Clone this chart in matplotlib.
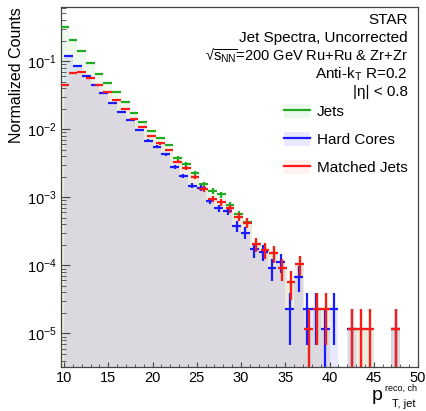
import numpy as np
import matplotlib
matplotlib.use('Agg')
import matplotlib.pyplot as plt
from matplotlib.patches import Patch
from matplotlib.lines import Line2D
from matplotlib.ticker import LogLocator, MultipleLocator, NullFormatter

plt.rcParams['font.family'] = ['Liberation Sans', 'DejaVu Sans']
plt.rcParams['mathtext.fontset'] = 'custom'
plt.rcParams['mathtext.rm'] = 'Liberation Sans'
plt.rcParams['mathtext.it'] = 'Liberation Sans:italic'
plt.rcParams['mathtext.default'] = 'regular'

# binning (jets / matched jets share one binning, hard cores use integer bins)
jet_edges = 9.531 + 0.986 * np.arange(42)
core_edges = np.arange(10, 51)

# normalized counts per bin
jets = [0.320, 0.206, 0.1406, 0.0938, 0.0647, 0.0477, 0.0346, 0.0254, 0.0174, 0.01277,
        0.0095, 0.00735, 0.00586, 0.00378, 0.00311, 0.00231, 0.00157, 0.00125, 0.0011, 0.000758,
        0.000559, 0.000434, 2.04e-4, 1.68e-4, 1.51e-4, 9.06e-5, 5.65e-5, 1.04e-4, 1.15e-5, 2.3e-5,
        2.3e-5, 0, 0, 1.15e-5, 1.15e-5, 1.15e-5, 0, 0, 1.15e-5, 0, 0]
matched = [0.0441, 0.0662, 0.0703, 0.0570, 0.0441, 0.0349, 0.0269, 0.0199, 0.0140, 0.0109,
           0.00795, 0.00621, 0.00495, 0.00334, 0.00269, 0.00199, 0.00132, 0.000944, 0.000853, 0.000685,
           0.000519, 0.000420, 2.04e-4, 1.68e-4, 1.51e-4, 9.06e-5, 5.65e-5, 1.04e-4, 1.15e-5, 2.3e-5,
           2.3e-5, 0, 0, 1.15e-5, 1.15e-5, 1.15e-5, 0, 0, 1.15e-5, 0, 0]
cores = [0.1175, 0.0839, 0.0611, 0.0439, 0.0344, 0.0245, 0.0181, 0.01365, 0.00973, 0.00678,
         0.00553, 0.00428, 0.00281, 0.00206, 0.00148, 0.00137, 0.000891, 0.000689, 0.000629, 0.000379,
         0.000302, 0.000172, 0.000159, 9.06e-5, 1.13e-4, 2.3e-5, 6.83e-5, 2.3e-5, 2.3e-5, 1.15e-5,
         2.3e-5, 0, 1.15e-5, 0, 0, 0, 0, 1.15e-5, 0, 0]
unit = 1.15e-5  # one entry, in normalized units

labels = ['Jets', 'Hard Cores', 'Matched Jets']
line_cols = ['#22aa22', '#1a1aff', '#ff1a1a']
fill_cols = [(0.3, 0.8, 0.3, 0.10), (0.4, 0.4, 1.0, 0.15), (1.0, 0.5, 0.45, 0.11)]
floor = 1e-9


def draw_hist(ax, edges, vals, col, fcol):
    vals = np.asarray(vals, dtype=float)
    ax.stairs(np.where(vals > 0, vals, floor), edges, fill=True, baseline=floor,
              color=fcol, lw=0, zorder=1)
    ok = vals > 0
    cent = 0.5 * (edges[:-1] + edges[1:])
    xerr = 0.5 * np.diff(edges)
    err = np.sqrt(vals * unit)
    lo = np.minimum(err, vals * (1 - 1e-9))
    ax.errorbar(cent[ok], vals[ok], xerr=xerr[ok], yerr=[lo[ok], err[ok]],
                fmt='none', ecolor=col, elinewidth=1.6, capsize=0, zorder=3)


fig = plt.figure(figsize=(4.27, 4.11), dpi=100)
ax = fig.add_axes([61 / 427, 1 - 367 / 411, 357 / 427, 360 / 411])
ax.set_yscale('log')

series = [(jet_edges, jets), (core_edges, cores), (jet_edges, matched)]
for (edges, vals), col, fcol in zip(series, line_cols, fill_cols):
    draw_hist(ax, edges, vals, col, fcol)

ax.set_xlim(9.66, 50)
ax.set_ylim(3.22e-6, 0.6226)
ax.xaxis.set_major_locator(MultipleLocator(5))
ax.xaxis.set_minor_locator(MultipleLocator(1))
ax.yaxis.set_major_locator(LogLocator(base=10, numticks=10))
ax.yaxis.set_minor_locator(LogLocator(base=10, subs=np.arange(2, 10), numticks=10))
ax.yaxis.set_minor_formatter(NullFormatter())
ax.tick_params(which='both', direction='in', top=False, right=False, labelsize=10.5,
               color='#444444')
ax.tick_params(axis='x', which='major', length=3.8, pad=3)
ax.tick_params(axis='x', which='minor', length=2.2)
ax.tick_params(axis='y', which='major', length=6.5, pad=3)
ax.tick_params(axis='y', which='minor', length=3.6)
for sp in ax.spines.values():
    sp.set_color('#444444')
    sp.set_linewidth(0.9)

fig.text(16.7 / 427, 1 - 7 / 411, 'Normalized Counts', rotation=90,
         ha='center', va='top', fontsize=11.5)
# x title: p with super/subscripts placed as separate small texts
fig.text(372 / 427, 1 - 400 / 411, 'p', ha='left', va='baseline', fontsize=14)
fig.text(417 / 427, 1 - 388 / 411, 'reco, ch', ha='right', va='center', fontsize=6.5)
fig.text(416 / 427, 1 - 404 / 411, 'T, jet', ha='right', va='center', fontsize=8)

info = ['STAR', 'Jet Spectra, Uncorrected',
        '√' + r'$\overline{s_{NN}}$' + '=200 GeV Ru+Ru & Zr+Zr',
        r'Anti-k$_{T}$ R=0.2', '|η| < 0.8']
info_y = [20, 38.3, 55.7, 74.3, 91.7]
info_fs = [11, 11, 10.5, 11, 11]
for txt, yy, fs in zip(info, info_y, info_fs):
    fig.text(408 / 427, 1 - yy / 411, txt, ha='right', va='center', fontsize=fs)

handles = [(Patch(facecolor=fc, edgecolor='none'), Line2D([], [], color=lc, lw=1.6))
           for lc, fc in zip(line_cols, fill_cols)]
fig.legend(handles, labels, loc='upper left', bbox_to_anchor=(284 / 427, 1 - 104 / 411),
           frameon=False, fontsize=11, handlelength=1.7, handleheight=1.0,
           labelspacing=0.85, handletextpad=0.45, borderaxespad=0, borderpad=0)

fig.savefig('out.png', dpi=100)
